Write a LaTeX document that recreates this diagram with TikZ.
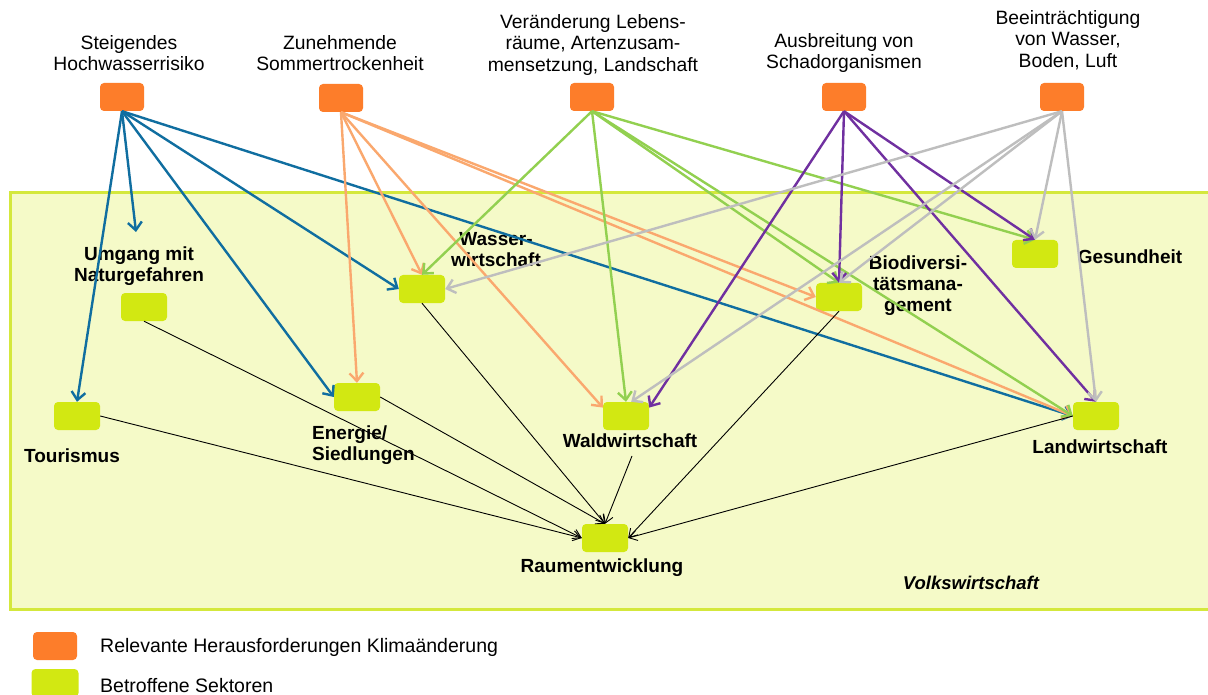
\documentclass[tikz,border=0pt]{standalone}
\usepackage{fontspec}
\setmainfont{Liberation Sans}
\usetikzlibrary{arrows.meta}
\definecolor{orangebox}{RGB}{253,125,42}
\definecolor{limebox}{RGB}{210,232,18}
\definecolor{bgfill}{RGB}{245,250,200}
\definecolor{bgborder}{RGB}{212,232,60}
\definecolor{cblue}{RGB}{16,110,160}
\definecolor{corange}{RGB}{250,168,110}
\definecolor{cgreen}{RGB}{146,208,80}
\definecolor{cpurple}{RGB}{112,48,160}
\definecolor{cgray}{RGB}{190,190,190}
\begin{document}
\begin{tikzpicture}[x=1pt,y=-1pt,
  chal/.style={fill=orangebox, rounded corners=4pt, minimum width=44pt, minimum height=28pt, inner sep=0pt},
  sect/.style={fill=limebox, rounded corners=4pt, minimum width=46pt, minimum height=28pt, inner sep=0pt},
  toplbl/.style={align=center, font=\fontsize{19.3}{21.5}\selectfont, inner sep=0pt},
  seclbl/.style={align=center, font=\fontsize{19}{21}\selectfont\bfseries, inner sep=0pt},
  leglbl/.style={anchor=west, font=\fontsize{19.5}{21}\selectfont, inner sep=0pt},
  carrow/.style={line width=2.4pt, -{Straight Barb[length=8pt,width=14pt]}},
  barrow/.style={line width=0.9pt, -{Straight Barb[length=8pt,width=10pt]}},
]
\useasboundingbox (0,0) rectangle (1208,695);
\fill[white] (0,0) rectangle (1208,695);
% sector area
\draw[fill=bgfill, draw=bgborder, line width=3pt] (10,193) rectangle (1209,609);

% challenge labels
\node[toplbl] (l1) at (129,53) {Steigendes\\Hochwasserrisiko};
\node[toplbl] (l2) at (340,53) {Zunehmende\\Sommertrockenheit};
\node[toplbl] (l3) at (593,45) {Veränderung Lebens-\\räume, Artenzusam-\\mensetzung, Landschaft};
\node[toplbl] (l4) at (844,53) {Ausbreitung von\\Schadorganismen};
\node[toplbl] (l5) at (1068,40) {Beeinträchtigung\\von Wasser,\\Boden, Luft};

% challenge boxes
\node[chal] (c1) at (122,97) {};
\node[chal] (c2) at (341,98) {};
\node[chal] (c3) at (592,97) {};
\node[chal] (c4) at (844,97) {};
\node[chal] (c5) at (1062,97) {};

% sector boxes
\node[sect] (umg) at (144,307) {};
\node[sect] (tour) at (77,416) {};
\node[sect] (ener) at (357,397) {};
\node[sect] (wass) at (422,289) {};
\node[sect] (bio) at (839,297) {};
\node[sect] (ges) at (1035,254) {};
\node[sect] (land) at (1096,416) {};
\node[sect] (wald) at (626,416) {};
\node[sect] (raum) at (605,538) {};

% sector labels
\node[seclbl] (umgl) at (139,266) {Umgang mit\\Naturgefahren};
\node[seclbl] (tourl) at (72,456) {Tourismus};
\node[seclbl, align=left, anchor=west] (enerl) at (312,445) {Energie/\\Siedlungen};
\node[seclbl] (wassl) at (496,250) {Wasser-\\wirtschaft};
\node[seclbl] (biol) at (918,286) {Biodiversi-\\tätsmana-\\gement};
\node[seclbl] (gesl) at (1130,257) {Gesundheit};
\node[seclbl] (landl) at (1100,447) {Landwirtschaft};
\node[seclbl] (waldl) at (630,441) {Waldwirtschaft};
\node[seclbl] (rauml) at (602,568) {Raumentwicklung};
\node[seclbl, font=\fontsize{18.5}{21}\selectfont\bfseries\itshape] (volk) at (971,583) {Volkswirtschaft};

\coordinate (umgin) at (136,232);
\coordinate (waldout) at (632,456);

% blue
\draw[carrow, cblue] (c1.south) -- (tour.north);
\draw[carrow, cblue] (c1.south) -- (umgin);
\draw[carrow, cblue] (c1.south) -- (ener.west);
\draw[carrow, cblue] (c1.south) -- (wass.west);
\draw[carrow, cblue] (c1.south) -- (land.west);
% orange
\draw[carrow, corange] (c2.south) -- (ener.north);
\draw[carrow, corange] (c2.south) -- (wass.north);
\draw[carrow, corange] (c2.south) -- (wald.160);
\draw[carrow, corange] (c2.south) -- (bio.west);
\draw[carrow, corange] (c2.south) -- (land.west);
% green
\draw[carrow, cgreen] (c3.south) -- (wass.north);
\draw[carrow, cgreen] (c3.south) -- (wald.north);
\draw[carrow, cgreen] (c3.south) -- (bio.north);
\draw[carrow, cgreen] (c3.south) -- (ges.north);
\draw[carrow, cgreen] (c3.south) -- (land.west);
% purple
\draw[carrow, cpurple] (c4.south) -- (wald.20);
\draw[carrow, cpurple] (c4.south) -- (bio.north);
\draw[carrow, cpurple] (c4.south) -- (ges.north);
\draw[carrow, cpurple] (c4.south) -- (land.north);
% gray
\draw[carrow, cgray] (c5.south) -- (wass.east);
\draw[carrow, cgray] (c5.south) -- (wald.70);
\draw[carrow, cgray] (c5.south) -- (bio.north);
\draw[carrow, cgray] (c5.south) -- (ges.north);
\draw[carrow, cgray] (c5.south) -- (land.north);
% black
\draw[barrow] (umg.south) -- (raum.west);
\draw[barrow] (tour.east) -- (raum.west);
\draw[barrow] (ener.east) -- (raum.north);
\draw[barrow] (wass.south) -- (raum.north);
\draw[barrow] (waldout) -- (raum.north);
\draw[barrow] (bio.south) -- (raum.east);
\draw[barrow] (land.west) -- (raum.east);

% legend
\node[chal] (legc) at (55,646) {};
\node[sect, minimum width=47pt] (legs) at (55,683) {};
\node[leglbl] (legct) at (100,647) {Relevante Herausforderungen Klimaänderung};
\node[leglbl] (legst) at (100,686) {Betroffene Sektoren};
\end{tikzpicture}
\end{document}
